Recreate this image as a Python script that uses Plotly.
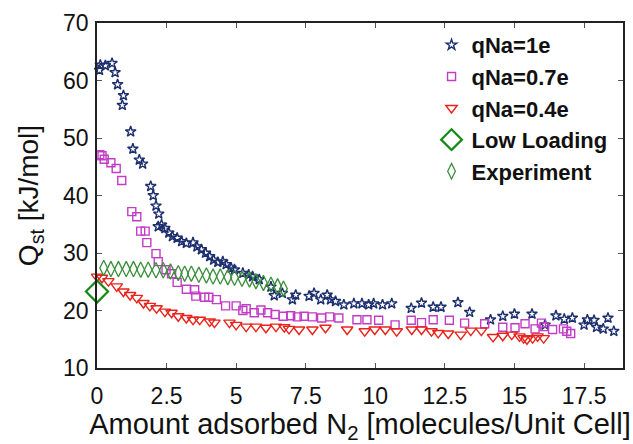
import plotly.graph_objects as go

# Isosteric heat of adsorption of N2 vs. loading, for three Na charges
q1_x = [0.09, 0.12, 0.3, 0.54, 0.65, 0.74, 0.91, 0.95, 1.21, 1.29, 1.52, 1.64, 1.93, 2.02,
        2.12, 2.22, 2.2, 2.32, 2.44, 2.58, 2.71, 2.88, 3.04, 3.21, 3.45, 3.59, 3.75, 3.9,
        4.05, 4.19, 4.34, 4.52, 4.64, 4.82, 4.94, 5.24, 5.45, 5.59, 5.83, 6.25, 6.37, 6.66,
        7.02, 7.14, 7.62, 7.8, 8.04, 8.27, 8.39, 8.57, 8.87, 9.23, 9.52, 9.76, 9.94, 10.26,
        10.59, 11.29, 11.66, 12.08, 12.36, 12.97, 13.39, 14.14, 14.58, 15.0, 15.63, 16.1,
        16.49, 16.79, 17.08, 17.5, 17.62, 17.86, 17.95, 18.19, 18.36, 18.57]
q1_y = [61.8, 62.7, 62.6, 63.0, 61.4, 59.3, 55.7, 57.4, 51.1, 48.1, 46.2, 45.5, 41.6, 40.0,
        38.2, 36.8, 34.6, 34.9, 34.3, 33.5, 32.9, 32.6, 32.0, 31.7, 31.8, 31.1, 30.6, 30.0,
        29.4, 28.8, 28.4, 28.5, 28.0, 27.4, 27.1, 26.5, 26.2, 25.9, 25.4, 24.1, 22.6, 23.0,
        21.9, 22.7, 22.5, 23.0, 21.9, 22.7, 21.9, 21.6, 21.0, 21.2, 21.2, 21.0, 21.2, 21.0,
        21.2, 20.4, 21.3, 20.6, 20.6, 21.4, 19.7, 18.4, 19.0, 19.4, 19.4, 17.5,
        19.1, 18.5, 18.7, 17.5, 18.4, 18.3, 17.1, 16.8, 18.7, 16.4]

q07_x = [0.1, 0.18, 0.26, 0.5, 0.69, 0.89, 1.25, 1.43, 1.57, 1.73, 1.79, 2.12, 2.2, 2.48,
         2.68, 2.88, 3.21, 3.51, 3.55, 3.87, 4.02, 4.29, 4.62, 5.0, 5.24, 5.36, 5.65, 5.89,
         6.13, 6.4, 6.69, 6.96, 7.2, 7.44, 7.74, 8.07, 8.36, 8.69, 9.34, 9.7, 10.12, 10.71,
         11.29, 11.66, 12.08, 12.66, 13.21, 13.93, 14.58, 15.02, 15.38, 15.74, 15.97, 16.07,
         16.37, 16.76, 16.88, 17.02]
q07_y = [47.1, 46.9, 46.3, 45.7, 44.7, 42.6, 37.2, 36.3, 33.8, 33.8, 31.8, 29.9, 28.5, 27.1,
         26.4, 24.9, 23.7, 23.6, 22.5, 22.3, 22.3, 21.9, 20.8, 20.8, 20.0, 20.3, 19.6, 20.1,
         19.6, 19.3, 19.0, 19.1, 18.9, 19.0, 18.9, 18.7, 18.9, 18.7, 18.4, 18.4, 18.3, 17.5,
         18.3, 17.9, 18.4, 18.3, 17.8, 17.7, 17.1, 17.0, 17.7, 16.8, 17.8, 17.2,
         16.7, 16.8, 16.4, 16.0]

q04_x = [0.0, 0.18, 0.41, 0.71, 0.95, 1.19, 1.43, 1.67, 1.9, 2.14, 2.44, 2.68, 2.92, 3.21,
         3.45, 3.69, 4.05, 4.22, 4.76, 5.0, 5.36, 5.71, 6.07, 6.43, 6.73, 6.9, 7.26, 7.74,
         8.21, 8.99, 9.62, 9.98, 10.36, 10.77, 11.31, 11.66, 12.02, 12.26, 12.62, 13.07,
         13.43, 13.81, 14.23, 14.58, 14.9, 15.18, 15.33, 15.45, 15.65, 15.83, 16.05]
q04_y = [25.9, 25.7, 25.1, 24.2, 23.3, 22.7, 22.2, 21.3, 20.8, 20.4, 19.8, 19.6, 19.0, 18.7,
         18.4, 18.4, 18.1, 17.9, 17.9, 17.5, 17.2, 17.2, 17.0, 17.2, 17.1, 16.8, 16.7, 16.7,
         17.0, 16.7, 16.4, 16.7, 16.7, 16.4, 16.7, 16.7, 16.4, 16.1, 16.0, 15.8,
         16.5, 16.5, 15.4, 15.6, 15.8, 15.5, 15.2, 15.0, 15.2, 15.5, 15.2]

low_x = [0.0]
low_y = [23.3]

exp_x = [0.24, 0.5, 0.77, 1.05, 1.31, 1.57, 1.84, 2.12, 2.38, 2.64, 2.92, 3.15, 3.39, 3.66,
         3.93, 4.17, 4.43, 4.7, 4.94, 5.21, 5.48, 5.71, 5.98, 6.25, 6.49, 6.7]
exp_y = [27.4, 27.2, 27.2, 27.2, 27.2, 27.1, 27.1, 27.0, 27.0, 26.8, 26.5, 26.4, 26.4, 26.2,
         26.1, 25.9, 25.9, 25.8, 25.7, 25.5, 25.4, 25.1, 24.8, 24.5, 24.2, 23.8]

x_ticks = [0, 2.5, 5, 7.5, 10, 12.5, 15, 17.5]
x_tick_text = ["0", "2.5", "5", "7.5", "10", "12.5", "15", "17.5"]
y_ticks = [10, 20, 30, 40, 50, 60, 70]

FONT = "Liberation Sans, Arial, sans-serif"

fig = go.Figure()
fig.add_trace(go.Scatter(x=q1_x, y=q1_y, mode="markers", name="qNa=1e", cliponaxis=False,
                         marker=dict(symbol="star-open", size=8, color="#1d2f6f",
                                     line=dict(width=1.4, color="#1d2f6f"))))
fig.add_trace(go.Scatter(x=q07_x, y=q07_y, mode="markers", name="qNa=0.7e", cliponaxis=False,
                         marker=dict(symbol="square-open", size=8, color="#c23cc6",
                                     line=dict(width=1.4, color="#c23cc6"))))
fig.add_trace(go.Scatter(x=q04_x, y=q04_y, mode="markers", name="qNa=0.4e", cliponaxis=False,
                         marker=dict(symbol="triangle-down-open", size=10, color="#e8231c",
                                     line=dict(width=1.4, color="#e8231c"))))
fig.add_trace(go.Scatter(x=low_x, y=low_y, mode="markers", name="Low Loading", cliponaxis=False,
                         marker=dict(symbol="diamond-open", size=17, color="#138a13",
                                     line=dict(width=2.2, color="#138a13"))))
fig.add_trace(go.Scatter(x=exp_x, y=exp_y, mode="markers", name="Experiment", cliponaxis=False,
                         marker=dict(symbol="diamond-tall-open", size=11, color="#3a8f3a",
                                     line=dict(width=1.3, color="#3a8f3a"))))

axis_common = dict(showline=True, linecolor="#222222", linewidth=1.5, mirror="ticks",
                   ticks="inside", ticklen=5, tickwidth=1, tickcolor="#555555",
                   showgrid=False, zeroline=False,
                   tickfont=dict(family=FONT, size=23, color="#111111"))

fig.update_layout(
    width=633, height=444,
    margin=dict(l=97, r=8, t=23, b=76),
    paper_bgcolor="white", plot_bgcolor="white",
    font=dict(family=FONT, color="#111111"),
    xaxis=dict(range=[0, 18.9], tickvals=x_ticks, ticktext=x_tick_text,
               ticklabelstandoff=7,
               title=dict(text="Amount adsorbed N<sub>2</sub> [molecules/Unit Cell]",
                          font=dict(family=FONT, size=29), standoff=0),
               **axis_common),
    yaxis=dict(range=[10, 70], tickvals=y_ticks, ticklabelstandoff=2,
               title=dict(text="Q<sub>st</sub> [kJ/mol]",
                          font=dict(family=FONT, size=28), standoff=16),
               **axis_common),
    legend=dict(x=0.636, y=0.997, xanchor="left", yanchor="top",
                bgcolor="rgba(255,255,255,0)", borderwidth=0,
                font=dict(family=FONT, size=22, color="#111111", weight="bold"),
                itemwidth=30, tracegroupgap=0),
    showlegend=True,
)

fig.write_html("out.html")
